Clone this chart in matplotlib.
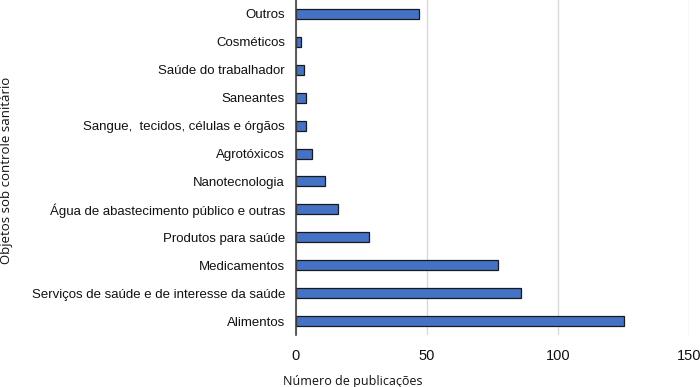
import matplotlib.pyplot as plt

# categories from top to bottom as in the chart
categorias = [
    "Outros",
    "Cosméticos",
    "Saúde do trabalhador",
    "Saneantes",
    "Sangue,  tecidos, células e órgãos",
    "Agrotóxicos",
    "Nanotecnologia",
    "Água de abastecimento público e outras",
    "Produtos para saúde",
    "Medicamentos",
    "Serviços de saúde e de interesse da saúde",
    "Alimentos",
]
publicacoes = [47, 2, 3, 4, 4, 6, 11, 16, 28, 77, 86, 125]
xticks = [0, 50, 100, 150]

plt.rcParams['font.family'] = ['Liberation Sans', 'DejaVu Sans']
plt.rcParams['font.size'] = 9.5

fig = plt.figure(figsize=(7, 3.87), dpi=100)
ax = fig.add_axes([296 / 700, 1 - 335 / 387, (689 - 296) / 700, 335 / 387])

pos = list(range(len(categorias)))
ax.barh(pos, publicacoes, height=0.36, color='#4472C4', edgecolor='#1a1a1a', linewidth=0.9, zorder=3)
ax.set_yticks(pos)
ax.set_yticklabels(categorias, color='#111111')
ax.set_ylim(len(categorias) - 0.5, -0.5)
ax.set_xlim(0, 150)
ax.set_xticks(xticks)
ax.tick_params(axis='x', length=0, pad=10, labelsize=10.5, colors='#111111')
ax.tick_params(axis='y', length=0, pad=8)

ax.grid(axis='x', color='#d9d9d9', linewidth=1, zorder=0)
for s in ['top', 'right', 'bottom']:
    ax.spines[s].set_visible(False)
ax.spines['left'].set_color('#404040')
ax.spines['left'].set_linewidth(1.2)
ax.spines['left'].set_zorder(4)

fig.text(353 / 700, 1 - 381 / 387, "Número de publicações", ha='center', va='center',
         fontsize=9, color='#111111', family=['Open Sans', 'DejaVu Sans'])
fig.text(7 / 700, 1 - 170 / 387, "Objetos sob controle sanitário", ha='center', va='center',
         rotation=90, fontsize=9.5, color='#111111', family=['Open Sans', 'DejaVu Sans'])

fig.savefig('out.png', dpi=100)
